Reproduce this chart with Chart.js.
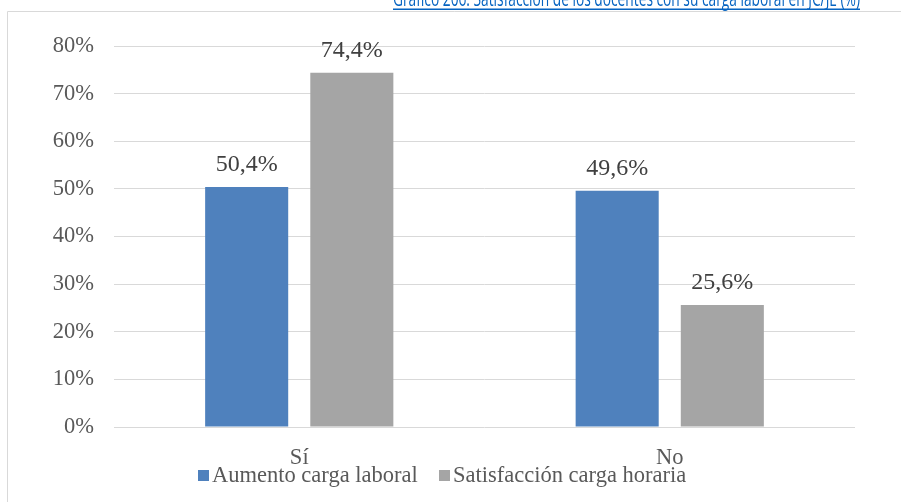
<!DOCTYPE html>
<html><head><meta charset="utf-8">
<script src="https://cdn.jsdelivr.net/npm/chart.js@4"></script>
<style>html,body{margin:0;padding:0;background:#fff;}canvas{display:block;}</style>
</head><body>
<canvas id="c" width="901" height="502"></canvas>
<script>
const titleText = "Gráfico 206: Satisfacción de los docentes con su carga laboral en JC/JE (%)";
const categories = ["Sí", "No"];
const seriesNames = ["Aumento carga laboral", "Satisfacción carga horaria"];
const aumentoValues = [50.4, 49.6];
const satisfaccionValues = [74.4, 25.6];
const yTicks = [0, 10, 20, 30, 40, 50, 60, 70, 80];
const colors = ["#4F81BD", "#A5A5A5"];

const SERIF = "'Liberation Serif', 'DejaVu Serif', serif";

const decor = {
  id: 'decor',
  afterDraw(chart) {
    const ctx = chart.ctx;
    ctx.save();
    // frame
    ctx.strokeStyle = '#d9d9d9';
    ctx.lineWidth = 1;
    ctx.beginPath();
    ctx.moveTo(7.5, 502); ctx.lineTo(7.5, 11.5); ctx.lineTo(901, 11.5);
    ctx.stroke();
    // title (clipped at top), horizontally condensed to Calibri-like width
    const fs = 21;
    ctx.font = fs + "px 'Open Sans', 'Liberation Sans', sans-serif";
    const w = ctx.measureText(titleText).width;
    const sx = 467 / w;
    ctx.fillStyle = '#0563C1';
    ctx.textAlign = 'left';
    ctx.textBaseline = 'alphabetic';
    ctx.save();
    ctx.translate(393, 6);
    ctx.scale(sx, 1);
    ctx.fillText(titleText, 0, 0);
    ctx.restore();
    ctx.fillRect(393, 8.5, 467, 1.5);
    // data labels
    ctx.font = "24px " + SERIF;
    ctx.fillStyle = '#404040';
    ctx.textAlign = 'center';
    chart.data.datasets.forEach((ds, i) => {
      const meta = chart.getDatasetMeta(i);
      meta.data.forEach((bar, j) => {
        const v = ds.data[j];
        ctx.fillText(v.toFixed(1).replace('.', ',') + '%', bar.x, bar.y - 16);
      });
    });
    // legend
    ctx.font = "22.5px " + SERIF;
    ctx.textAlign = 'left';
    const starts = [198, 439];
    chart.data.datasets.forEach((ds, i) => {
      ctx.fillStyle = ds.backgroundColor;
      ctx.fillRect(starts[i], 470, 11, 11);
      ctx.fillStyle = '#595959';
      ctx.fillText(ds.label, starts[i] + 14, 482);
    });
    ctx.restore();
  }
};

new Chart(document.getElementById('c'), {
  type: 'bar',
  data: {
    labels: categories,
    datasets: [
      { label: seriesNames[0], data: aumentoValues, backgroundColor: colors[0] },
      { label: seriesNames[1], data: satisfaccionValues, backgroundColor: colors[1] }
    ]
  },
  options: {
    responsive: false,
    animation: false,
    devicePixelRatio: 1,
    layout: { padding: { top: 46, right: 46, bottom: 0, left: 0 } },
    datasets: { bar: { categoryPercentage: 0.5676, barPercentage: 0.79 } },
    plugins: { legend: { display: false }, title: { display: false }, tooltip: { enabled: false } },
    scales: {
      x: {
        grid: { display: false, drawTicks: false },
        border: { display: false },
        ticks: { color: '#595959', font: { family: SERIF, size: 22.5 }, padding: 18 },
        afterFit(s) { s.height = 75; }
      },
      y: {
        min: 0, max: 80,
        afterBuildTicks(s) { s.ticks = yTicks.map(v => ({ value: v })); },
        grid: { color: '#d9d9d9', drawTicks: false, lineWidth: 1 },
        border: { display: false },
        ticks: { color: '#595959', font: { family: SERIF, size: 22.5 }, padding: 20,
                 callback: v => v + '%' },
        afterFit(s) { s.width = 114; }
      }
    }
  },
  plugins: [decor]
});
</script>
</body></html>
